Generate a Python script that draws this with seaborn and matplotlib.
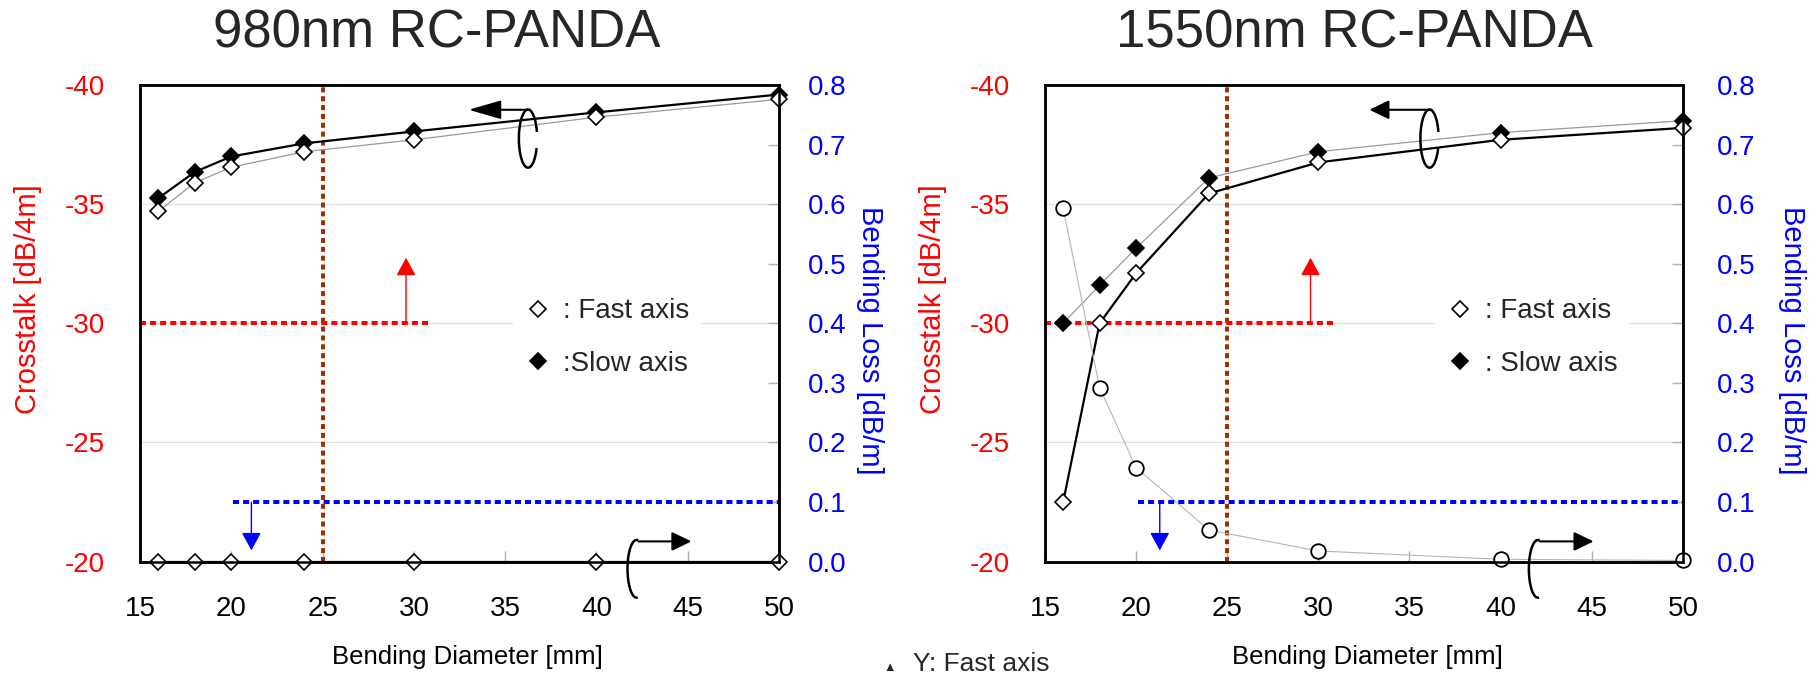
import matplotlib.pyplot as plt
import seaborn as sns
from matplotlib.lines import Line2D
from matplotlib.patches import Arc

# Bending diameter [mm]
diameter = [16, 18, 20, 24, 30, 40, 50]

# 980nm RC-PANDA
xt980_slow = [-35.25, -36.35, -37.0, -37.55, -38.05, -38.85, -39.6]
xt980_fast = [-34.7, -35.9, -36.55, -37.2, -37.7, -38.65, -39.4]
loss980 = [0.0, 0.0, 0.0, 0.0, 0.0, 0.0, 0.0]

# 1550nm RC-PANDA
xt1550_slow = [-30.0, -31.6, -33.15, -36.1, -37.2, -38.0, -38.5]
xt1550_fast = [-22.5, -30.0, -32.1, -35.45, -36.75, -37.7, -38.2]
loss1550 = [0.593, 0.292, 0.158, 0.053, 0.018, 0.004, 0.002]

x_ticks = [15, 20, 25, 30, 35, 40, 45, 50]
xt_ticks = [-40, -35, -30, -25, -20]
loss_ticks = [0.0, 0.1, 0.2, 0.3, 0.4, 0.5, 0.6, 0.7, 0.8]

# spec limits
XT_SPEC = -30
LOSS_SPEC = 0.1
D_MIN = 25

sns.set_theme(style="white")
plt.rcParams["font.family"] = ["Liberation Sans", "DejaVu Sans"]
plt.rcParams["axes.unicode_minus"] = False

RED = "#ff0000"
BLUE = "#0000ff"
BROWN = "#9a3300"
GRAY = "#9a9a9a"
DOTS = (0, (1.5, 1.0))


def arrow(ax, tail, tip, color, lw, hl, hw):
    ax.annotate("", xy=tip, xytext=tail, annotation_clip=False,
                arrowprops=dict(arrowstyle=f"-|>,head_length={hl},head_width={hw}",
                                color=color, lw=lw, mutation_scale=20,
                                shrinkA=0, shrinkB=0))


def draw_panel(ax, xt_slow, xt_fast, loss, slow_main, loss_marker,
               legend_x, legend_labels, rpad, rlabel_x, xlabel_x, sym):
    ax2 = ax.twinx()
    main = dict(color="black", lw=1.6)
    thin = dict(color=GRAY, lw=0.9)

    # crosstalk
    sns.lineplot(x=diameter, y=xt_slow, ax=ax, marker="D", markersize=8.5,
                 mfc="black", mec="black", mew=1.2, clip_on=False, zorder=3,
                 **(main if slow_main else thin))
    sns.lineplot(x=diameter, y=xt_fast, ax=ax, marker="D", markersize=8.5,
                 mfc="white", mec="black", mew=1.2, clip_on=False, zorder=4,
                 **(thin if slow_main else main))

    # bending loss
    if loss_marker == "D":
        sns.lineplot(x=diameter, y=loss, ax=ax2, marker="D", markersize=8.5,
                     mfc="white", mec="black", mew=1.2, clip_on=False,
                     color="black", lw=1.6)
    else:
        sns.lineplot(x=diameter, y=loss, ax=ax2, marker="o", markersize=10.5,
                     mfc="white", mec="black", mew=1.3, clip_on=False,
                     color="#b5b5b5", lw=0.8)

    ax.set_xlim(15, 50)
    ax.set_ylim(-20, -40)
    ax2.set_ylim(0, 0.8)

    # spec lines
    ax.axvline(D_MIN, color=BROWN, lw=2.9, ls=(0, (1.25, 0.95)), zorder=2)
    ax.hlines(XT_SPEC, 15, 30.8, color=RED, lw=2.9, linestyles=[DOTS], zorder=2)
    arrow(ax, (29.57, XT_SPEC), (29.57, -32.75), RED, 1.0, 0.55, 0.3)
    ax2.hlines(LOSS_SPEC, 20.1, 50, color=BLUE, lw=2.9, linestyles=[DOTS])
    arrow(ax2, (sym["blue_x"], LOSS_SPEC), (sym["blue_x"], 0.019), BLUE, 1.0, 0.55, 0.3)

    # rotation symbols: crosstalk -> left axis, loss -> right axis
    cx = sym["top_cx"]
    ax.add_patch(Arc((cx, -37.75), 1.0, 2.44, theta1=40, theta2=330,
                     color="black", lw=1.8, zorder=5))
    arrow(ax, (cx + 0.1, -38.96), (sym["top_tip"], -38.96), "black", 1.5,
          sym["top_hl"], 0.29)
    bx = sym["bot_cx"]
    ax2.add_patch(Arc((bx, -0.012), 1.0, 0.097, theta1=30, theta2=320,
                      color="black", lw=1.8, clip_on=False, zorder=5))
    arrow(ax2, (bx + 0.1, 0.034), (sym["bot_tip"], 0.034), "black", 1.5, 0.6, 0.29)

    # legend
    handles = [Line2D([], [], ls="none", marker="D", ms=8.5, mfc="white", mec="black", mew=1.2),
               Line2D([], [], ls="none", marker="D", ms=8.5, mfc="black", mec="black", mew=1.2)]
    leg = ax2.legend(handles, legend_labels, loc="center left",
                     bbox_to_anchor=(legend_x, 0.47), fontsize=20,
                     frameon=True, framealpha=1, edgecolor="none", facecolor="white",
                     handlelength=1.0, handletextpad=0.4, labelspacing=0.95,
                     borderaxespad=0, borderpad=0.4, fancybox=False)
    leg.set_zorder(6)

    # axes styling
    ax.set_xticks(x_ticks)
    ax.set_yticks(xt_ticks)
    ax.set_yticklabels([str(v) for v in xt_ticks])
    ax2.set_yticks(loss_ticks)
    ax2.set_yticklabels([f"{v:.1f}" for v in loss_ticks])
    ax.yaxis.grid(True, color="#e2e2e2", lw=1)
    ax.set_axisbelow(True)
    ax.tick_params(axis="y", left=False, pad=19, labelsize=20, labelcolor=RED)
    ax.tick_params(axis="x", bottom=True, direction="in", length=8, width=1,
                   color="#b0b0b0", pad=25, labelsize=20, labelcolor="black")
    ax2.tick_params(axis="y", right=True, direction="in", length=8, width=1,
                    color="#b0b0b0", pad=rpad, labelsize=20, labelcolor=BLUE)
    for a in (ax, ax2):
        for s in a.spines.values():
            s.set_color("black")
            s.set_linewidth(1.8)

    ax.set_xlabel("Bending Diameter [mm]", fontsize=18.5, color="black")
    ax.xaxis.set_label_coords(xlabel_x, -0.175)
    ax.set_ylabel("Crosstalk [dB/4m]", fontsize=21, color=RED, va="bottom")
    ax.yaxis.set_label_coords(-0.154, 0.55)
    ax2.set_ylabel("Bending Loss [dB/m]", fontsize=21, color=BLUE,
                   rotation=270, va="bottom")
    ax2.yaxis.set_label_coords(rlabel_x, 0.465)
    return ax2


fig = plt.figure(figsize=(18.16, 6.75), dpi=100)
ax_a = fig.add_axes([0.0771, 0.1679, 0.3519, 0.7062])
ax_b = fig.add_axes([0.5754, 0.1679, 0.3513, 0.7062])

draw_panel(ax_a, xt980_slow, xt980_fast, loss980, True, "D",
           0.584, [": Fast axis", ":Slow axis"], 21, 1.12, 0.513,
           dict(blue_x=21.1, top_cx=36.25, top_tip=33.0, top_hl=1.0,
                bot_cx=42.2, bot_tip=45.2))
draw_panel(ax_b, xt1550_slow, xt1550_fast, loss1550, False, "o",
           0.612, [": Fast axis", ": Slow axis"], 24.5, 1.149, 0.506,
           dict(blue_x=21.3, top_cx=36.1, top_tip=32.8, top_hl=0.6,
                bot_cx=42.05, bot_tip=45.1))

fig.text(0.2406, 0.9289, "980nm RC-PANDA", fontsize=38, ha="center", va="baseline")
fig.text(0.7456, 0.9289, "1550nm RC-PANDA", fontsize=38, ha="center", va="baseline")
fig.text(890 / 1816, 1 - 668 / 675, "\u25b2", fontsize=9, ha="center", va="center")
fig.text(913 / 1816, 1 - 652 / 675, "Y: Fast axis", fontsize=19, ha="left", va="top")

fig.savefig("out.png", dpi=100)
